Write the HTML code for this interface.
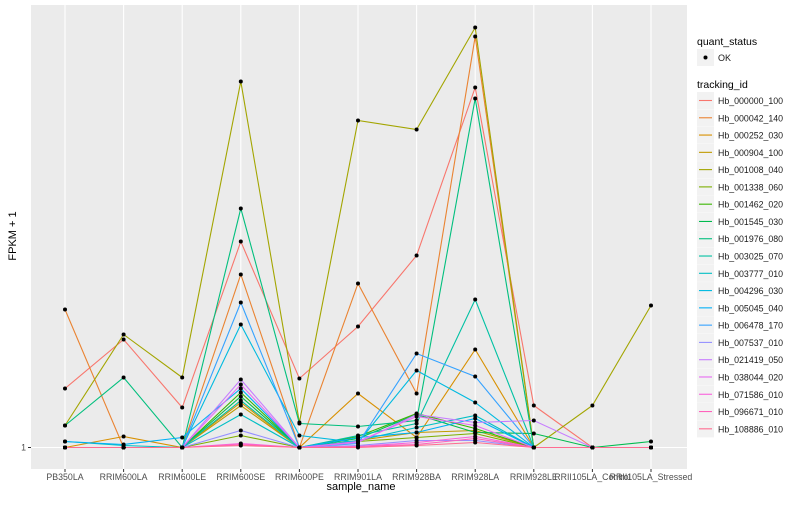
<!DOCTYPE html>
<html><head><meta charset="utf-8"><style>
body{margin:0;background:#fff}
svg{font-family:"Liberation Sans",sans-serif}
</style></head><body>
<svg id="chart" width="800" height="500" xmlns="http://www.w3.org/2000/svg">
<rect x="0" y="0" width="800" height="500" fill="#fff"/>
<rect x="31" y="5" width="656" height="464" fill="#ebebeb"/>
<g id="grid"></g>
<g id="lines"></g>
<g id="points"></g>
<g id="xaxis"></g>
<g id="yaxis"></g>
<text x="361" y="490" font-size="11" text-anchor="middle" fill="#000">sample_name</text>
<text transform="translate(16,236) rotate(-90)" font-size="11" text-anchor="middle" fill="#000">FPKM + 1</text>
<g id="legend">
<text x="697" y="45" font-size="10.5" fill="#000">quant_status</text>
<rect x="697" y="49" width="17" height="17" fill="#f2f2f2"/>
<circle cx="705.5" cy="57.5" r="2" fill="#000"/>
<text x="718" y="61" font-size="9" fill="#1a1a1a">OK</text>
<text x="697" y="88" font-size="10.5" fill="#000">tracking_id</text>
</g>
</svg>
<script>
const categories=["PB350LA","RRIM600LA","RRIM600LE","RRIM600SE","RRIM600PE","RRIM901LA","RRIM928BA","RRIM928LA","RRIM928LE","RRII105LA_Control","RRII105LA_Stressed"];
const seriesNames=["Hb_000000_100","Hb_000042_140","Hb_000252_030","Hb_000904_100","Hb_001008_040","Hb_001338_060","Hb_001462_020","Hb_001545_030","Hb_001976_080","Hb_003025_070","Hb_003777_010","Hb_004296_030","Hb_005045_040","Hb_006478_170","Hb_007537_010","Hb_021419_050","Hb_038044_020","Hb_071586_010","Hb_096671_010","Hb_108886_010"];
const colors=["#F8766D","#EA8331","#D89000","#C09B00","#A3A500","#7CAE00","#39B600","#00BB4E","#00BF7D","#00C1A3","#00BFC4","#00BAE0","#00B0F6","#35A2FF","#9590FF","#C77CFF","#E76BF3","#FA62DB","#FF62BC","#FF6C91"];
const s0=[6.9,11.8,5.0,21.6,7.9,13.1,20.2,37.0,5.2,1,1];
const s1=[14.8,1,1,18.3,1,17.4,6.4,42.1,1,1,1];
const s2=[1,2.1,1,5.5,1,6.4,2.0,10.8,1,1,1];
const s3=[1,1,1,5.2,1,1.7,2.5,2.7,1,1,1];
const s4=[3.2,12.3,8.0,37.6,3.5,33.7,32.8,43.0,1,5.2,15.2];
const s5=[1,1,1,2.2,1,1.6,2.0,2.4,1,1,1];
const s6=[1,1,1,6.5,1,2.1,4.4,2.9,1,1,1];
const s7=[1,1,1,6.1,1,1.9,4.3,2.5,2.4,1,1.6];
const s8=[3.2,8.0,1,24.9,3.4,3.1,3.7,35.9,1,1,1];
const s9=[1,1,1,5.7,1,2.2,3.4,15.8,1,1,1];
const s10=[1.6,1.2,1,4.3,1,1.7,3.0,4.2,1,1,1];
const s11=[1,1,1,13.3,2.2,1.5,8.7,5.5,1,1,1];
const s12=[1.6,1.3,2.0,6.9,1,2.0,2.5,3.9,1,1,1];
const s13=[1,1,1,15.5,1,1.4,10.4,8.1,1,1,1];
const s14=[1,1,1,2.7,1,1.2,1.7,1.7,1,1,1];
const s15=[1,1,1,7.8,1,1.5,4.3,3.5,3.7,1,1];
const s16=[1,1,1,7.3,1,1.6,4.1,3.2,1,1,1];
const s17=[1,1,1,1.4,1,1.1,1.5,2.1,1,1,1];
const s18=[1,1,1,1.3,1,1.1,1.3,1.9,1,1,1];
const s19=[1,1,1,1.2,1,1,1.2,1.5,1,1,1];
const seriesValues=[s0,s1,s2,s3,s4,s5,s6,s7,s8,s9,s10,s11,s12,s13,s14,s15,s16,s17,s18,s19];
const yTicks=[1];

const NS="http://www.w3.org/2000/svg";
function xScale(i){return 65+i*58.6;}
function yScale(v){return 447.5-(v-1)*10;}
function mk(tag,attrs,parent){const e=document.createElementNS(NS,tag);for(const k in attrs)e.setAttribute(k,attrs[k]);parent.appendChild(e);return e;}
const grid=document.getElementById('grid'),lines=document.getElementById('lines'),pts=document.getElementById('points'),xa=document.getElementById('xaxis'),ya=document.getElementById('yaxis'),leg=document.getElementById('legend');
categories.forEach((c,i)=>{
  const g=mk('line',{x1:xScale(i),x2:xScale(i),y1:5,y2:469,stroke:'#fff','stroke-width':1.1},grid);
  
  
  const t=mk('line',{x1:xScale(i),x2:xScale(i),y1:469,y2:472,stroke:'#333','stroke-width':1},xa);
  
  
  const l=mk('text',{x:xScale(i),y:480,'font-size':8.8,'text-anchor':'middle',fill:'#4d4d4d'},xa);
  l.textContent=c;
  
  
});
yTicks.forEach(v=>{
  const g=mk('line',{x1:31,x2:687,y1:yScale(v),y2:yScale(v),stroke:'#fff','stroke-width':1.1},grid);
  
  
  const t=mk('line',{x1:28,x2:31,y1:yScale(v),y2:yScale(v),stroke:'#333'},ya);
  
  
  const l=mk('text',{x:26,y:yScale(v)+3,'font-size':8.8,'text-anchor':'end',fill:'#4d4d4d'},ya);
  l.textContent=String(v);
  
  
});
seriesValues.forEach((vals,s)=>{
  const p=mk('polyline',{points:vals.map((v,i)=>xScale(i)+','+yScale(v)).join(' '),fill:'none',stroke:colors[s],'stroke-width':1.1},lines);
  
  
});
seriesValues.forEach((vals,s)=>{
  vals.forEach((v,i)=>{
    const r=mk('circle',{cx:xScale(i),cy:yScale(v),r:2,fill:'#000'},pts);
    
    
  });
});
seriesNames.forEach((n,s)=>{
  const y0=92+s*17.28;
  const k=mk('rect',{x:697,y:y0,width:17,height:17,fill:'#f2f2f2'},leg);
  
  
  const l=mk('line',{x1:699,x2:712,y1:y0+8.5,y2:y0+8.5,stroke:colors[s],'stroke-width':1.1},leg);
  
  
  const t=mk('text',{x:718,y:y0+12,'font-size':8.8,fill:'#1a1a1a'},leg);
  t.textContent=n;
  
  
});
</script>
</body></html>
